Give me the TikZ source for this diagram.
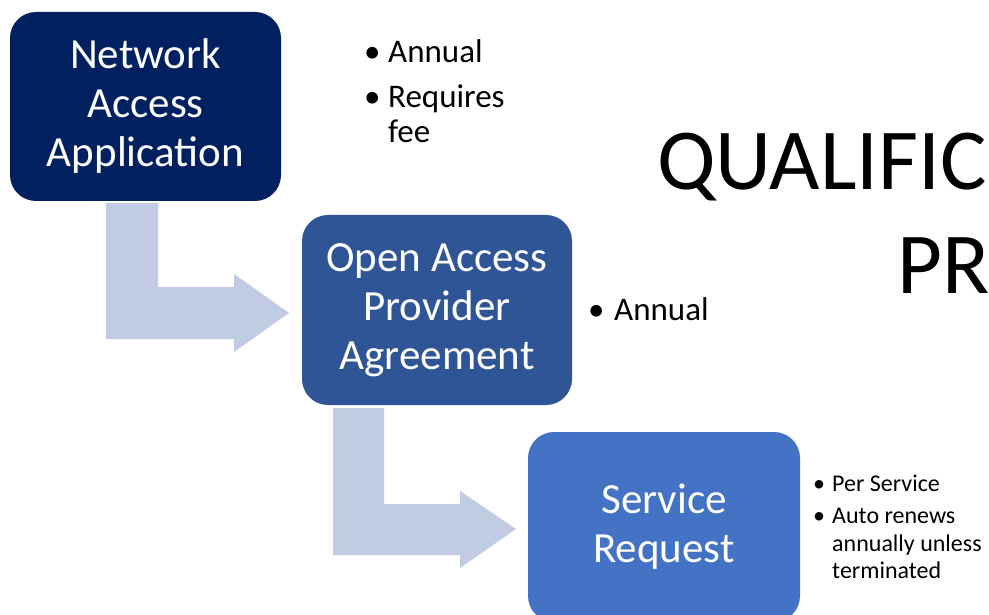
\documentclass[tikz,border=0pt]{standalone}
\usepackage{fontspec}
\setmainfont{Carlito}
\usetikzlibrary{positioning}

\definecolor{navy}{HTML}{002060}
\definecolor{midblue}{HTML}{2F5597}
\definecolor{lightblue}{HTML}{4472C4}
\definecolor{arrowblue}{HTML}{C1CBE4}

\begin{document}
\begin{tikzpicture}
	[x=1pt,y=-1pt,
	box/.style={rectangle, rounded corners=26pt, inner sep=0pt, text=white, align=center,
		font=\fontsize{43}{49}\selectfont},
	mid/.style={anchor=base west, inner sep=0pt, font=\fontsize{33}{35}\selectfont},
	small/.style={anchor=base west, inner sep=0pt, font=\fontsize{24}{28}\selectfont},
	title/.style={anchor=base west, inner sep=0pt, font=\fontsize{87}{103}\selectfont}]
	\clip (0,0) rectangle (989,615);
	\fill[white] (0,0) rectangle (989,615);
	
	% bent arrows
	\fill[arrowblue] (106,203) -- (158,203) -- (158,287) -- (234,287) -- (234,274) -- (289,313)
		-- (234,352) -- (234,339) -- (106,339) -- cycle;
	\fill[arrowblue] (333,408) -- (384,408) -- (384,504) -- (460,504) -- (460,491) -- (516,529)
		-- (460,568) -- (460,555) -- (333,555) -- cycle;
	
	\node[box, fill=navy, minimum width=271pt, minimum height=189pt] (naa) at (145.5,106.5) {Network\\Access\\Application};
	\node[box, fill=midblue, minimum width=270pt, minimum height=190pt] (oapa) at (437,310) {Open Access\\Provider\\Agreement};
	\node[box, fill=lightblue, minimum width=272pt, minimum height=190pt] (sr) at (664,527) {Service\\Request};
	
	% notes
	\node[mid] (b1) at (364,63) {\textbullet};
	\node[mid] (t1) at (388,63) {Annual};
	\node[mid] (b2) at (364,108) {\textbullet};
	\node[mid] (t2) at (388,108) {Requires};
	\node[mid] (t3) at (388,143) {fee};
	\node[mid] (b3) at (588,320) {\textbullet};
	\node[mid] (t4) at (614,320) {Annual};
	
	\node[small] (b4) at (813,491) {\textbullet};
	\node[small] (t5) at (832,491) {Per Service};
	\node[small] (b5) at (813,523) {\textbullet};
	\foreach \txt/\y [count=\i] in {Auto renews/523,annually unless/551,terminated/578}
	\node[small] (s\i) at (832,\y) {\txt};
	
	\node[title] (q1) at (657,190) {QUALIFIC};
	\node[title] (q2) at (897,293) {PR};
\end{tikzpicture}
\end{document}
